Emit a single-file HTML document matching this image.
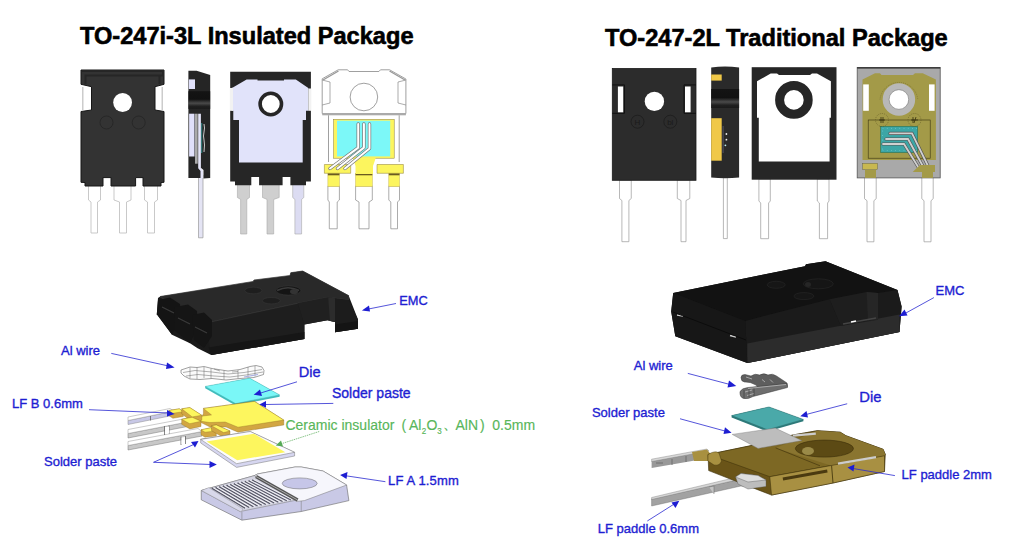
<!DOCTYPE html>
<html><head><meta charset="utf-8">
<style>
html,body{margin:0;padding:0;background:#fff;width:1024px;height:559px;overflow:hidden}
svg{display:block}
.t{font-family:"Liberation Sans",sans-serif}
.ttl{font-family:"Liberation Sans",sans-serif;font-weight:bold;font-size:23.6px;fill:#000;stroke:#000;stroke-width:0.6px}
.lb{font-family:"Liberation Sans",sans-serif;font-size:13px;fill:#1e1ed2;stroke:#1e1ed2;stroke-width:0.35px}
.gr{font-family:"Liberation Sans",sans-serif;font-size:14px;fill:#58b65a;stroke:#58b65a;stroke-width:0.15px}
</style></head><body>
<svg width="1024" height="559" viewBox="0 0 1024 559">
<defs>
<marker id="ah" viewBox="0 0 10 10" refX="9" refY="5" markerWidth="8" markerHeight="8" markerUnits="userSpaceOnUse" orient="auto"><path d="M0,0 L10,5 L0,10 z" fill="#1e1ed2"/></marker>
<marker id="ahg" viewBox="0 0 10 10" refX="9" refY="5" markerWidth="8" markerHeight="8" markerUnits="userSpaceOnUse" orient="auto"><path d="M0,0 L10,5 L0,10 z" fill="#55aa55"/></marker>
<linearGradient id="band" x1="0" y1="0" x2="0" y2="1">
<stop offset="0" stop-color="#141414"/><stop offset="0.45" stop-color="#111"/><stop offset="0.68" stop-color="#4a4a4a"/><stop offset="0.85" stop-color="#202020"/><stop offset="1" stop-color="#1a1a1a"/>
</linearGradient>
</defs>
<!-- TITLES -->
<text class="ttl" x="80" y="44.4">TO-247i-3L Insulated Package</text>
<text class="ttl" x="605" y="45.8">TO-247-2L Traditional Package</text>

<!-- ===== TOP LEFT ROW ===== -->
<g id="p1">
  <!-- leads -->
  <g fill="#fff" stroke="#bbb" stroke-width="0.8">
    <path d="M88.5,185 H100.5 V200 L97.5,202 V233 H91 V202 L88.5,200 Z"/>
    <path d="M114,185 H131 V200 L126.5,202 V233 H119.5 V202 L114,200 Z"/>
    <path d="M144.5,185 H157.5 V200 L154.5,202 V233 H147.5 V202 L144.5,200 Z"/>
  </g>
  <path d="M81,70 H164 V84.3 L155,86.7 V110 L164,111.5 V182.3 L161,182.5 V186 H143 V177.6 H142 L135.6,177.6 V186 H111 V177.6 H103 V186 H85 V182.5 L81,182.3 V111.5 L91.5,110 V86.7 L81,84.3 Z" fill="#333" stroke="#161616" stroke-width="1"/>
  <path d="M82,71 H163 V75.5 H85.5 V84 M159.5,75.5 V84" fill="none" stroke="#262626" stroke-width="2"/>
  <circle cx="122.6" cy="102.5" r="9.4" fill="#fff"/>
  <circle cx="106.5" cy="122.5" r="6.5" fill="none" stroke="#222" stroke-width="0.7"/>
  <circle cx="138.7" cy="122.5" r="6.5" fill="none" stroke="#222" stroke-width="0.7"/>
  <rect x="82" y="87" width="1.5" height="23" fill="#ccc"/>
  <rect x="161.5" y="87" width="1.5" height="23" fill="#ccc"/>
</g>

<g id="p2">
  <path d="M198.5,175 H203 V237.8 H198.5 Z" fill="#e4e4f4" stroke="#999" stroke-width="0.7"/>
  <path d="M188.4,70.8 H196.6 L210.2,75.1 V178 L203.5,178.5 V170 L201,168 V178 H188.4 Z" fill="#252525"/>
  <rect x="188.8" y="79.4" width="6.2" height="9.6" fill="#e0e0fa"/>
  <rect x="188.4" y="91.2" width="21.8" height="17.7" fill="url(#band)"/>
  <rect x="189.1" y="113.7" width="5.4" height="42.8" fill="#e0e0fa"/>
  <rect x="195" y="113.7" width="2.7" height="50" fill="#aaa"/>
  <path d="M198.2,113.7 H200.9 V168.3 L203,171 V178 H200.5 V171 L198.2,168.3 Z" fill="#e4e4f8"/>
  <rect x="201.3" y="123" width="0.9" height="30" fill="#3a9a9a"/>
  <path d="M204,124 q1,4 0,8 q-1,4 0,8 q1,4 0,12" fill="none" stroke="#ddd" stroke-width="0.9"/>
</g>
<g id="p3">
  <g stroke="#aaa" stroke-width="0.6">
    <path d="M237.4,184 H249.5 V197.5 L246.8,199.4 V234 H240.6 V199.4 L237.4,197.5 Z" fill="#cfcfcf"/>
    <path d="M262.5,184 H279.2 V197.5 L273.7,199.4 V234 H267 V199.4 L262.5,197.5 Z" fill="#cfcfcf"/>
    <path d="M292.7,184 H303.8 V197.5 L301.6,199.4 V234 H294.9 V199.4 L292.7,197.5 Z" fill="#dcdcf2"/>
  </g>
  <path d="M230.2,71.7 H310.9 V181.5 L306,181.6 V185.3 H290.4 V177 H282.6 V185.3 H259.1 V177 H251.3 V185.3 H235 V181.6 L230.2,181.5 Z" fill="#262626"/>
  <path d="M233.3,87.3 L246.6,79.5 H257.5 V80.5 H284 V79.5 H295.8 L308.3,88.1 V110.8 H306 V120 H302.7 V162.5 H239 V120 H233.3 V110.8 H231.5 V88 Z" fill="#e1e3fa"/>
  <rect x="229.8" y="88" width="3.2" height="22.8" fill="#f2f2f2"/>
  <rect x="308.3" y="88.5" width="3" height="22.3" fill="#f2f2f2"/>
  <circle cx="270.8" cy="104" r="10.7" fill="#fff" stroke="#262626" stroke-width="3.6"/>
</g>
<g id="p4">
  <g fill="#fff" stroke="#888" stroke-width="0.7">
    <path d="M327.9,186 H339.4 V200 L337.2,202 V228.8 H329.3 V202 L327.9,200 Z"/>
    <path d="M355.6,186 H372.3 V200 L369,202 V228.8 H359 V202 L355.6,200 Z"/>
    <path d="M388.8,186 H399.5 V200 L397.5,202 V228.8 H390.8 V202 L388.8,200 Z"/>
  </g>
  <g fill="#fcf55e" stroke="#c9b850" stroke-width="0.5">
    <rect x="327.9" y="173.3" width="11.5" height="13.2"/>
    <rect x="355.6" y="173.3" width="16.7" height="13.2"/>
    <rect x="388.8" y="173.3" width="10.7" height="13.2"/>
  </g>
  <rect x="327.9" y="173.3" width="11.5" height="2" fill="#6a5a20"/>
  <rect x="355.6" y="173.3" width="16.7" height="2" fill="#6a5a20"/>
  <rect x="388.8" y="173.3" width="10.7" height="2" fill="#6a5a20"/>
  <path d="M322.2,78.8 L338.2,69.8 H347.6 L349,71.5 H378.9 L380.5,69.8 H389.6 L405.9,79 V113.5 H322.2 Z" fill="#fff" stroke="#888" stroke-width="0.8"/>
  <path d="M322.2,80 L330,82 V103 L322.2,105 M405.9,80 L398,82 V103 L405.9,105" fill="none" stroke="#888" stroke-width="0.7"/>
  <path d="M323,80 L338.5,71 M405,80 L389.5,71" stroke="#999" stroke-width="1.4"/>
  <rect x="322.2" y="113" width="83.7" height="2.3" fill="#aaa"/>
  <circle cx="363.9" cy="97" r="13.8" fill="none" stroke="#777" stroke-width="0.7"/>
  <path d="M328.5,115.3 V162 M399.2,115.3 V162" stroke="#888" stroke-width="0.8"/>
  <rect x="333.6" y="119.4" width="60.6" height="38.8" fill="#fcf55e" stroke="#8a7a30" stroke-width="0.5"/>
  <rect x="337" y="120.7" width="53.2" height="35.7" fill="#7cf8f8"/>
  <path d="M352.6,157.5 H375.9 L373,166 V174 H355.5 V166 Z" fill="#fcf55e"/>
  <path d="M324.4,164.5 H350.7 V173.3 H324.4 Z M377,164.5 H403.4 V173.3 H377 Z" fill="#fcf55e" stroke="#8a7a30" stroke-width="0.5"/>
  <g fill="none" stroke-linecap="round" stroke-linejoin="round">
    <path d="M358.2,124 V147.6 L330,168.5 M363.9,124 V147.6 L337.5,168.5 M369.5,124 V148.5 L345,168.5" stroke="#777" stroke-width="3.4"/>
    <path d="M358.2,124 V147.6 L330,168.5 M363.9,124 V147.6 L337.5,168.5 M369.5,124 V148.5 L345,168.5" stroke="#fff" stroke-width="2"/>
  </g>
</g>

<g id="p5">
  <g fill="#fff" stroke="#999" stroke-width="0.7">
    <path d="M619.5,180 H631.25 V198.5 L628.9,200.5 V241.7 H621.9 V200.5 L619.5,198.5 Z"/>
    <path d="M677.3,180 H689.8 V198.5 L686,200.5 V241.7 H681 V200.5 L677.3,198.5 Z"/>
  </g>
  <rect x="612.3" y="68.5" width="83.7" height="111.8" fill="#2c2c2c" stroke="#1a1a1a" stroke-width="0.8"/>
  <path d="M612.3,84.9 H624.5 V113.3 H612.3 M696,84.9 H684 V113.3 H696" fill="none" stroke="#111" stroke-width="1"/>
  <rect x="617.9" y="86.5" width="5.3" height="25.8" fill="#fff"/>
  <rect x="685" y="86.5" width="5.6" height="25.8" fill="#fff"/>
  <circle cx="654.4" cy="101.4" r="9.7" fill="#fff"/>
  <circle cx="637.5" cy="121.7" r="6.5" fill="none" stroke="#1a1a1a" stroke-width="0.7"/>
  <circle cx="670.3" cy="121.7" r="6.5" fill="none" stroke="#1a1a1a" stroke-width="0.7"/>
  <text x="637.5" y="124.7" font-family="Liberation Sans" font-size="8" fill="#1a1a1a" text-anchor="middle">H</text>
  <text x="670.3" y="124.7" font-family="Liberation Sans" font-size="8" fill="#1a1a1a" text-anchor="middle">bl</text>
</g>
<g id="p6">
  <path d="M723.4,177 H727.3 V238.6 H723.4 Z" fill="#fff" stroke="#999" stroke-width="0.7"/>
  <path d="M711.2,67.5 Q725,65.5 739.1,67.5 V177.4 Q725,179 711.2,177.4 Z" fill="#2a2a2a"/>
  <rect x="711.2" y="74.5" width="10.5" height="6.1" fill="#f0c848"/>
  <rect x="711.2" y="89" width="27.9" height="19" fill="url(#band)"/>
  <rect x="711.2" y="118.2" width="10.5" height="42.5" fill="#f0c848"/>
  <rect x="722.6" y="126" width="1" height="27" fill="#556"/>
  <circle cx="726.4" cy="134" r="0.9" fill="#eee"/>
  <circle cx="726.4" cy="139.7" r="0.9" fill="#eee"/>
  <circle cx="725.4" cy="145.3" r="0.9" fill="#bee"/>
</g>
<g id="p7">
  <g fill="#fff" stroke="#999" stroke-width="0.7">
    <path d="M758.9,179 H770.3 V201 L768.6,203 V238.7 H760.7 V203 L758.9,201 Z"/>
    <path d="M817.3,179 H829 V201 L827.6,203 V238.7 H819.4 V203 L817.3,201 Z"/>
  </g>
  <rect x="751.7" y="67.2" width="84.8" height="112.5" fill="#262626"/>
  <path d="M757,81.3 L770.7,73.5 H777 L779,75 H810 L812,73.5 H817 L830.9,81.3 V117.8 H829.6 V161.6 H758.8 V117.8 H757 Z" fill="#fff"/>
  <circle cx="793.9" cy="99.9" r="14.3" fill="#fff" stroke="#262626" stroke-width="9"/>
</g>
<g id="p8">
  <g fill="#fff" stroke="#999" stroke-width="0.7">
    <path d="M864.5,177 H876.2 V198.7 L873.9,200.7 V241.8 H867 V200.7 L864.5,198.7 Z"/>
    <path d="M921.8,177 H933.2 V198.7 L931,200.7 V241.8 H924 V200.7 L921.8,198.7 Z"/>
  </g>
  <rect x="857.2" y="67.5" width="83" height="110.4" fill="#a9a9a9" stroke="#555" stroke-width="0.8"/>
  <rect x="857.2" y="67.2" width="83" height="1.4" fill="#333"/>
  <path d="M862.5,79.4 L875,73.2 H880 L881.5,75 H913 L915,73.2 H922.7 L935.9,79.4 V160 H862.5 Z" fill="#a39a48"/>
  <rect x="863.2" y="84.4" width="5.6" height="26.4" fill="#fff"/>
  <rect x="929" y="84.4" width="5.6" height="26.4" fill="#fff"/>
  <circle cx="898.9" cy="99.5" r="13" fill="#fff" stroke="#b8b8b8" stroke-width="6.5"/>
  <circle cx="898.9" cy="99.5" r="9.8" fill="none" stroke="#666" stroke-width="0.5"/>
  <rect x="868.2" y="120" width="62" height="38.2" fill="none" stroke="#3a3310" stroke-width="0.6"/>
  <rect x="880.7" y="126.3" width="37" height="26.3" fill="#3ca6a6" stroke="#264" stroke-width="0.5"/>
  <circle cx="882" cy="120" r="6.5" fill="none" stroke="#5a5020" stroke-width="0.5" stroke-dasharray="1,1"/>
  <circle cx="914.5" cy="120" r="6.5" fill="none" stroke="#5a5020" stroke-width="0.5" stroke-dasharray="1,1"/>
  <path d="M879,120 H885 M881,117 V123 M883,117 V123 M911,120 H918 M913,117 V123 M916,117 L914,123" stroke="#2a2408" stroke-width="0.7"/>
  <path d="M880,99.5 A19,19 0 0,1 917.8,99.5" fill="none" stroke="#6a6030" stroke-width="0.5" stroke-dasharray="1,1"/>
  <g fill="#8fd8d8"><circle cx="883.0" cy="128.3" r="0.45"/><circle cx="883.0" cy="150.6" r="0.45"/><circle cx="887.2" cy="128.3" r="0.45"/><circle cx="887.2" cy="150.6" r="0.45"/><circle cx="891.4" cy="128.3" r="0.45"/><circle cx="891.4" cy="150.6" r="0.45"/><circle cx="895.6" cy="128.3" r="0.45"/><circle cx="895.6" cy="150.6" r="0.45"/><circle cx="899.8" cy="128.3" r="0.45"/><circle cx="899.8" cy="150.6" r="0.45"/><circle cx="904.0" cy="128.3" r="0.45"/><circle cx="904.0" cy="150.6" r="0.45"/><circle cx="908.2" cy="128.3" r="0.45"/><circle cx="908.2" cy="150.6" r="0.45"/><circle cx="912.4" cy="128.3" r="0.45"/><circle cx="912.4" cy="150.6" r="0.45"/><circle cx="916.6" cy="128.3" r="0.45"/><circle cx="916.6" cy="150.6" r="0.45"/><circle cx="882.7" cy="131.0" r="0.45"/><circle cx="882.7" cy="135.5" r="0.45"/><circle cx="882.7" cy="140.0" r="0.45"/><circle cx="882.7" cy="144.5" r="0.45"/><circle cx="882.7" cy="149.0" r="0.45"/></g>
  <g fill="none" stroke-linecap="round">
    <path d="M890,133.4 H912 L930,170 M886,139 H908 L925,170 M883,144 H904 L920,170" stroke="#555" stroke-width="3.2"/>
    <path d="M890,133.4 H912 L930,170 M886,139 H908 L925,170 M883,144 H904 L920,170" stroke="#d0d0d0" stroke-width="1.8"/>
  </g>
  <rect x="862.5" y="163.3" width="15.1" height="6.2" fill="#c8b850" stroke="#554" stroke-width="0.4"/>
  <rect x="865" y="169.5" width="11" height="8.4" fill="#a39a48"/>
  <path d="M912.7,172 L920,165 H935 V172 Z" fill="#a39a48"/>
  <rect x="922" y="172" width="11" height="5.9" fill="#a39a48"/>
</g>

<!-- ===== BOTTOM LEFT ===== -->
<g id="emcL">
  <path d="M160.2,296.5 L290,276.9 L290.8,272.7 L302.7,271 L348.6,295.6 L358,319.4 L358,328.8 L335,332.2 L335,322 L327.4,320.3 L304.4,324.5 L304.4,339 L211.2,355.1 L197.6,348.3 L190,343.2 L172,334.7 L156.8,314.3 L158,298 Z" fill="#1a1a1a"/>
  <path d="M160.2,296.5 L253,281.5 L254,280 L290,275.5 L290.8,272.7 L302.7,271 L348.6,295.6 L348.6,299.9 L335,298.2 L328.2,297.3 L297.6,303.3 L206,323 L185,311 Z" fill="#292929" stroke="#383838" stroke-width="0.7"/>
  <path d="M297.6,303.3 L328.2,297.3 L335,298.2 L335,322 L327.4,320.3 L304.4,324.5 Z" fill="#202020"/>
  <path d="M328.2,297.3 L335,298.2 L335,322 L330,321 Z" fill="#2c2c2c"/>
  <path d="M206,323 L297.6,303.3 L304.4,324.5 L304.4,339 L211.2,355.1 Z" fill="#1e1e1e"/>
  <path d="M208.5,347.5 L304.4,332 L304.4,339 L211.2,355.1 Z" fill="#161616"/>
  <path d="M335,298.2 L348.6,299.9 L358,319.4 L358,328.8 L335,332.2 Z" fill="#1c1c1c"/>
  <path d="M335,324.5 L358,321 L358,328.8 L335,332.2 Z" fill="#141414"/>
  <path d="M160,297 L206,323 M206,323 L297.6,303.3" stroke="#3a3a3a" stroke-width="0.6" fill="none"/>
  <!-- tabs -->
  <path d="M158,300 L170,297.5 L180,304 L181,316 L172,334.7 L156.8,314.3 Z" fill="#141414"/>
  <path d="M175,307 L188,304.5 L197,311 L198,326 L190,343.2 L174,330 Z" fill="#151515"/>
  <path d="M192,315 L204,312.5 L212,320 L212,336 L204,348 L194,340 Z" fill="#151515"/>
  <path d="M162,307 L174,313 M178,318 L190,324 M195,327 L207,333" stroke="#3a3a3a" stroke-width="1.2"/>
  <ellipse cx="253.4" cy="290.5" rx="8.5" ry="3.3" fill="#1e1e1e" stroke="#3a3a3a" stroke-width="0.5"/>
  <ellipse cx="288.3" cy="290.5" rx="12.5" ry="4.6" fill="#141414" stroke="#3a3a3a" stroke-width="0.5"/>
  <path d="M277,290.5 Q288,285 299,290.5" stroke="#3a3a3a" stroke-width="1.5" fill="none"/>
  <ellipse cx="294" cy="291.5" rx="4" ry="2.6" fill="#333"/>
  <ellipse cx="271.3" cy="300.7" rx="9" ry="3.2" fill="#1e1e1e" stroke="#3a3a3a" stroke-width="0.5"/>
</g>
<g id="wireL">
  <path d="M181,370 L190,367 L197,367.5 L204,366.5 L212,368.5 L228,371 L240,369.5 L250,366.5 L256,365.5 L262,367 L264,370.5 L263.5,374.5 L254,377.5 L240,378.5 L226,380 L212,378.5 L200,379.5 L190,379 L184,376 L181,373 Z" fill="#fbfbfb" stroke="#555" stroke-width="0.55"/>
  <g fill="none" stroke="#666" stroke-width="0.5">
    <path d="M183,372.5 L195,370.5 L212,372 L228,374 L244,372.5 L262,369.5"/>
    <path d="M186,376 L198,374.5 L214,376 L230,377 L246,375 L263,372"/>
    <path d="M190,367.5 V378.5 M197,367.5 V379 M204,367 V378 M211,368.5 V378.5 M224,370.5 V379.5 M238,370 V378.5 M248,367 V377.5 M255,366 V376.5"/>
    <path d="M214,369 L220,371 M232,372 L238,371.5"/>
  </g>
  <path d="M244,377 L258,374.5" stroke="#aab0e0" stroke-width="1.2"/>
</g>
<g id="dieL">
  <path d="M205.2,386.4 L249.7,378.2 L279.6,394.9 L279.6,396.8 L235.6,405.5 L205.2,388.3 Z" fill="#3fbdbd"/>
  <path d="M205.2,386.4 L249.7,378.2 L279.6,394.9 L235.6,403.6 Z" fill="#7af7f7" stroke="#46aaaa" stroke-width="0.4"/>
</g>
<g id="lfbL">
  <!-- leads -->
  <path d="M128,420.5 L172,411.5 L172,415.5 L128,424.5 Z" fill="#c8c8e6" stroke="#888" stroke-width="0.5"/>
  <path d="M128,417 L170,408.5 L174,411 L128,420.5 Z" fill="#fff" stroke="#999" stroke-width="0.5"/>
  <path d="M128,433.5 L190,421.5 L190,426 L128,438 Z" fill="#c8c8c8" stroke="#777" stroke-width="0.5"/>
  <path d="M128,429.5 L186,418.5 L190,421.5 L128,433.5 Z" fill="#fff" stroke="#999" stroke-width="0.5"/>
  <path d="M128,445.5 L202,431.5 L202,436 L128,450 Z" fill="#c8c8c8" stroke="#777" stroke-width="0.5"/>
  <path d="M128,441.5 L198,428.5 L202,431.5 L128,445.5 Z" fill="#fff" stroke="#999" stroke-width="0.5"/>
  <path d="M150.5,416 V420.5 M164.5,426 V435 M169,425.5 V434 M181,436.5 V445 M185.5,436 V444" stroke="#555" stroke-width="0.7"/>
  <path d="M165,427 L169,426.5 V433.5 L165,434 Z M181.5,437.5 L185,437 V443.5 L181.5,444 Z" fill="#fff"/>
  <path d="M200.7,439.4 L215,450 L219,449 L205,438.5 Z" fill="#c8c8e6" stroke="#888" stroke-width="0.4"/>
  <!-- yellow tabs -->
  <g stroke="#8a6a20" stroke-width="0.35">
  <path d="M203.4,408.4 L254.5,401.4 L283.8,420.1 L283.8,425 L238,432.2 L226,427 L210,427 L200,422 L190,424 L190,419 L200.2,419.3 L203.4,413.7 Z" fill="#d2a642"/>
  <path d="M203.4,408.4 L254.5,401.4 L283.8,420.1 L238,427.2 L225.2,422 L209.9,422.5 L201,421.3 L196,418 L203,416 L211.5,414.9 Z" fill="#fdf65e"/>
  <path d="M168.8,410.5 L179.3,408.8 L183.3,411.7 L183.3,416.5 L172.9,418.3 L168.8,415.5 Z" fill="#d2a642"/>
  <path d="M168.8,410.5 L179.3,408.8 L183.3,411.7 L172.9,413.3 Z" fill="#fdf65e"/>
  <path d="M181.7,408.8 L189.8,407.6 L201.8,415.3 L201.8,420.3 L192.2,421.9 L181.7,413.8 Z" fill="#d2a642"/>
  <path d="M181.7,408.8 L189.8,407.6 L201.8,415.3 L192.2,416.9 Z" fill="#fdf65e"/>
  <path d="M181.7,419.3 L192.2,417.3 L201,421.3 L201,426.5 L189.8,428.9 L181.7,424.3 Z" fill="#d2a642"/>
  <path d="M181.7,419.3 L192.2,417.3 L201,421.3 L189.8,423.7 Z" fill="#fdf65e"/>
  <path d="M201,429.8 L210.7,427.8 L216.3,431 L216.3,436 L205,437.2 L201,434.8 Z" fill="#d2a642"/>
  <path d="M201,429.8 L210.7,427.8 L216.3,431 L205,432.2 Z" fill="#fdf65e"/>
  <path d="M211.5,425.7 L216.3,424.9 L230,431 L230,436 L223.6,437.6 L211.5,430.7 Z" fill="#d2a642"/>
  <path d="M211.5,425.7 L216.3,424.9 L230,431 L223.6,432.6 Z" fill="#fdf65e"/>
  </g>
</g>
<g id="cerL">
  <path d="M200.7,439.4 L250.2,431.5 L294.6,452.3 L294.6,456 L236.6,467.4 L200.7,443 Z" fill="#d6d6f0" stroke="#777" stroke-width="0.5"/>
  <path d="M200.7,439.4 L250.2,431.5 L294.6,452.3 L236.6,463.7 Z" fill="#fbfbff" stroke="#777" stroke-width="0.5"/>
  <path d="M206.5,441.5 L253.8,433.7 L285.3,452.3 L237.3,460.2 Z" fill="#fdf65e"/>
</g>
<g id="lfaL">
  <path d="M201.25,490.5 L254.4,475.6 L257.5,474 L295,467 L301.25,467 L323,471 L346.6,485 L348.9,500.6 L301.25,511.5 L241.9,520.2 L201.25,499.8 Z" fill="#c9c9e6" stroke="#666" stroke-width="0.6"/>
  <path d="M201.25,490.5 L254.4,475.6 L297,500 L240.3,511.5 Z" fill="#d4d4e2" stroke="#777" stroke-width="0.5"/>
  <path d="M201.5,490.5 L208.8,487.6 L243,509 L241,512 Z" fill="#d8d8ea" stroke="#888" stroke-width="0.4"/>
  <g stroke="#5a5a6a" stroke-width="1.4">
    <path d="M211.8,488.1 L245.1,508.1 M215.5,487.4 L249.2,507.4 M219.2,486.6 L253.4,506.6 M222.8,485.9 L257.6,505.9 M226.5,485.1 L261.8,505.1 M230.2,484.4 L265.9,504.4 M233.8,483.6 L270.1,503.6 M237.5,482.9 L274.2,502.9 M241.2,482.1 L278.4,502.1 M244.8,481.4 L282.6,501.4 M248.5,480.6 L286.8,500.6 M252.2,479.9 L290.9,499.9"/>
  </g>
  <g stroke="#fff" stroke-width="0.8">
    <path d="M213.2,487.8 L246.5,507.8 M216.9,487.1 L250.7,507.1 M220.6,486.3 L254.8,506.3 M224.2,485.6 L259.0,505.6 M227.9,484.8 L263.1,504.8 M231.6,484.1 L267.3,504.1 M235.2,483.3 L271.5,503.3 M238.9,482.6 L275.6,502.6 M242.6,481.8 L279.8,501.8 M246.2,481.1 L284.0,501.1 M249.9,480.3 L288.1,500.3 M253.6,479.6 L292.3,499.6"/>
  </g>
  <path d="M254.4,475.6 L257.5,474 L295,467 L301.25,467 L323,471 L346.6,485 L304.4,500.6 L296.6,501.4 Z" fill="#f6f6fc" stroke="#777" stroke-width="0.5"/>
  <path d="M256,476.5 L297.6,500" stroke="#555" stroke-width="3.5"/>
  <path d="M256,476.5 L297.6,500" stroke="#aaa" stroke-width="1"/>
  <ellipse cx="299.7" cy="483.4" rx="17.5" ry="5.5" fill="#c6c6e8" stroke="#666" stroke-width="0.5"/>
  <path d="M301.25,501 V511.5 M241.9,512 V520" stroke="#777" stroke-width="0.5"/>
</g>
<!-- labels left -->
<text class="lb" x="399.3" y="304.6" style="font-size:12.8px">EMC</text>
<line x1="396" y1="303.5" x2="362" y2="310.4" stroke="#1e1e1e" stroke-width="0" />
<g stroke="#2a2ad0" stroke-width="0.8" fill="none">
  <path d="M396,303.5 L367,309.3"/>
  <path d="M111.3,353.4 L170,366.3"/>
  <path d="M89,409.7 L169,413"/>
  <path d="M297,381.8 L259,393.5"/>
  <path d="M333.3,403.4 L265,404.5"/>
  <path d="M153.5,462.3 L193,444.8 M153.5,462.3 L211,464.5"/>
  <path d="M385.4,481.7 L346,475.8"/>
</g>
<g fill="#1e1ed2">
  <path d="M361.9,310.4 L369,305.5 L370,311.5 Z"/>
  <path d="M174.6,367.5 L167,362.5 L166,369 Z"/>
  <path d="M174.6,413.9 L167,410 L167,416.5 Z"/>
  <path d="M253.6,394.7 L260,389.5 L262,396 Z"/>
  <path d="M259.4,404.5 L266,401 L266,407.8 Z"/>
  <path d="M198.5,440.9 L195,447.5 L191,442 Z"/>
  <path d="M216.8,464.6 L209.5,461 L209.5,468 Z"/>
  <path d="M340.1,474.9 L347.5,472 L346.5,479 Z"/>
</g>
<path d="M319.2,431.5 L279,444.5" stroke="#55aa55" stroke-width="0.7" stroke-dasharray="1.5,0.8"/>
<path d="M275.8,445.5 L281,440.5 L283,446.5 Z" fill="#55aa55"/>
<text class="lb" x="61" y="354.8">Al wire</text>
<text class="lb" x="12" y="407.8">LF B 0.6mm</text>
<text class="lb" x="298.8" y="377" style="font-size:14.6px">Die</text>
<text class="lb" x="332" y="398.3" style="font-size:14px">Solder paste</text>
<text class="lb" x="44" y="465.8">Solder paste</text>
<text class="lb" x="388" y="485.4" style="letter-spacing:0.15px">LF A 1.5mm</text>
<g transform="translate(0,429.8) scale(1,1.08) translate(0,-429.8)">
<text class="gr" x="285.5" y="429.8">Ceramic insulator</text>
<text class="gr" x="401.5" y="429.8">(</text>
<text class="gr" x="409" y="429.8">Al</text>
<text class="gr" x="421.8" y="434" style="font-size:8px">2</text>
<text class="gr" x="426.5" y="429.8">O</text>
<text class="gr" x="437.2" y="434" style="font-size:8px">3</text>
<text class="gr" x="443.5" y="429.5">、</text>
<text class="gr" x="455.5" y="429.8">AlN</text>
<text class="gr" x="480" y="429.8">)</text>
<text class="gr" x="492.3" y="429.8">0.5mm</text>
</g>

<!-- ===== BOTTOM RIGHT ===== -->
<g id="emcR">
  <path d="M673.2,293.1 L763.8,274.6 L805,266.3 L806,264.3 L825.5,261.2 L897.5,290 L901.6,306.4 L899.5,332.1 L747.3,363.1 L675.3,336.3 L671.2,311.6 Z" fill="#151515"/>
  <path d="M673.2,293.1 L763.8,274.6 L805,266.3 L806,264.3 L825.5,261.2 L897.5,290 L878,293 L866.6,292 L829.6,299.2 L745.3,320.9 Z" fill="#121212"/>
  <path d="M745.3,320.9 L829.6,299.2 L840.9,325.9 L878,319.8 L878,293 L897.5,290 L901.6,306.4 L899.5,332.1 L747.3,363.1 Z" fill="#1b1b1b"/>
  <path d="M747.3,343.5 L899.5,314.6 L899.5,332.1 L747.3,363.1 Z" fill="#2c2c2c"/>
  <path d="M829.6,299.2 L866.6,292 L878,293 L878,319.8 L840.9,325.9 Z" fill="#1e1e1e"/>
  <path d="M866.6,292 L878,293 L878,319.8 L868,320.5 Z" fill="#262626"/>
  <path d="M843,324 L876,318" stroke="#444" stroke-width="1.5"/>
  <path d="M851,322 L856,321" stroke="#fff" stroke-width="1.5"/>
  <path d="M673.2,293.1 L671.2,311.6 L675.3,336.3 L747.3,363.1 L745.3,320.9 Z" fill="#171717"/>
  <path d="M677,315 L683,316 M730,335.5 L736,337" stroke="#ccc" stroke-width="1.3"/>
  <path d="M673,312 L746,340" stroke="#0c0c0c" stroke-width="1"/>
  <ellipse cx="776.2" cy="284.8" rx="9" ry="3.5" fill="#161616" stroke="#282828" stroke-width="0.6"/>
  <ellipse cx="818.3" cy="283.8" rx="15" ry="5" fill="#151515" stroke="#282828" stroke-width="0.6"/>
  <ellipse cx="808" cy="284.5" rx="3" ry="2.5" fill="#262626"/>
  <ellipse cx="803.9" cy="296.1" rx="10" ry="3.5" fill="#161616" stroke="#282828" stroke-width="0.6"/>
</g>
<g id="wireR">
  <path d="M741,377.5 Q741,374.5 745,374.5 L751,376 Q755,373 759.5,375 Q764,372.5 768,375 Q772.5,373 776.5,376 L787,383 L787.5,386.5 L760,390 L756,385 Q750,381.5 744.5,382 Q741,381.5 741,377.5 Z" fill="#5e5e5e" stroke="#3a3a3a" stroke-width="0.5"/>
  <path d="M740,391.5 Q742,388 748,387.5 L787,383.5 L787.5,387.5 L753,396.5 Q748,399.5 743.5,398.5 Q739.5,397 740,391.5 Z" fill="#6e6e6e" stroke="#3a3a3a" stroke-width="0.5"/>
  <path d="M748,388.5 L786,384.5 M745,392 L752,390 M747,395.5 L754,393.5 M762,379.5 L765,382 M770,379.5 L773,382.5 M746,377 L752,379" stroke="#b0b0b0" stroke-width="0.9" fill="none"/>
  <path d="M744,390 V398 M749,389 V397 M754,388.5 V396" stroke="#333" stroke-width="0.6"/>
</g>
<g id="dieR">
  <path d="M731.6,415.6 L769,406.9 L803.4,419.4 L803.4,421.2 L767.5,431.5 L731.6,417.4 Z" fill="#2d7a7a"/>
  <path d="M731.6,415.6 L769,406.9 L803.4,419.4 L767.5,429.7 Z" fill="#4aa9a9" stroke="#2a6a6a" stroke-width="0.4"/>
</g>
<g id="leadsR">
  <path d="M651.6,461 L692,453.5 L707,451 L707,458 L692,461 L651.6,468 Z" fill="#999"/>
  <path d="M651.6,459.2 L692,451.7 L707,449 L709,451 L651.6,461.5 Z" fill="#d8d8d8" stroke="#777" stroke-width="0.4"/>
  <path d="M656,463 H663 M672,459 V465 M686,456 V462" stroke="#666" stroke-width="0.8"/>
  <path d="M692,452 L707,449.5 L712,456 L708,461 L694,461 Z" fill="#a89040"/>
  <path d="M651.6,499 L741,479 L764.4,483 L764.4,489 L741,486 L651.6,506 Z" fill="#a2a2a2" stroke="#666" stroke-width="0.4"/>
  <path d="M651.6,497.5 L741,476.2 L764.4,480.5 L764.4,483 L741,479 L651.6,499.5 Z" fill="#d6d6d6" stroke="#777" stroke-width="0.4"/>
  <path d="M709,487 L714,486 V494 M740,478 L746,477 L752,480 L764,482 V488 L752,487 L746,486 Z" fill="#c4c4c4" stroke="#666" stroke-width="0.5"/>
</g>
<g id="padR">
  <path d="M708,454.5 L753.7,445.1 L792.9,435 L817.3,430.7 L840.2,432.2 L845.9,435.7 L883.1,449.3 L885.3,454.4 L884.5,471.5 L833,483 L771.5,495.1 L708.7,470.6 Z" fill="#6a5418" stroke="#3a2e08" stroke-width="0.6"/>
  <path d="M708,454.5 L753.7,445.1 L792.9,435 L817.3,430.7 L840.2,432.2 L845.9,435.7 L883.1,449.3 L885.3,454.4 L884.5,455.8 L769.8,476.7 Z" fill="#7d6824" stroke="#3a2e08" stroke-width="0.5"/>
  <path d="M775.7,447.9 L817.3,430.7 L840.2,432.2 L845.9,435.7 L883.1,449.3 L885.3,454.4 L884.5,455.8 L831.6,465.8 Z" fill="#8a7530"/>
  <path d="M775.7,447.9 L820,465.8" stroke="#3a2e08" stroke-width="0.6"/>
  <path d="M769.8,476.7 L884.5,455.8 L884.5,471.5 L833,483 L771.5,495.1 Z" fill="#a89042" stroke="#3a2e08" stroke-width="0.5"/>
  <path d="M831.6,465.8 L833,483" stroke="#3a2e08" stroke-width="0.8"/>
  <ellipse cx="824.4" cy="448.6" rx="29" ry="8.5" fill="#5c4a14" stroke="#3a2e08" stroke-width="0.6"/>
  <ellipse cx="808" cy="451" rx="6" ry="4" fill="#9a8a48"/>
  <path d="M792.9,435.7 L815.8,433.6" stroke="#ccc" stroke-width="2.2"/>
  <path d="M838,463.7 L876,457.2" stroke="#ccc" stroke-width="2.2"/>
  <path d="M782.9,479 L827.3,471" stroke="#4a3a10" stroke-width="3"/>
  <path d="M708,454.5 Q715,450 719,453 L721.5,461 Q720,466 714,465 L708,461 Z" fill="#a89040" stroke="#3a2e08" stroke-width="0.4"/>
  <path d="M735.6,477 L741,473.5 L758,475.5 L766,480 L766,486.5 L748,489 L738,484 Z" fill="#bdbdbd" stroke="#555" stroke-width="0.4"/>
  <path d="M735.6,477 L741,473.5 L758,475.5 L766,480 L748,482 Z" fill="#dedede" stroke="#555" stroke-width="0.4"/>
</g>
<g id="spR">
  <path d="M732.2,434.4 L775.3,428.1 L801.9,440.6 L758.1,448.4 Z" fill="#bdbdbd" stroke="#777" stroke-width="0.4"/>
</g>
<!-- labels right -->
<g stroke="#2a2ad0" stroke-width="0.8" fill="none">
  <path d="M933.9,297.6 L905,313.5"/>
  <path d="M687.8,373.4 L730,384.5"/>
  <path d="M847.2,403.75 L806,414.5"/>
  <path d="M680,418.75 L726,431.3"/>
  <path d="M894.9,475.6 L853,468.5"/>
  <path d="M647.3,521 L675,503.5"/>
</g>
<g fill="#1e1ed2">
  <path d="M899.1,316.3 L904.5,309.5 L907.5,315.5 Z"/>
  <path d="M736.25,386 L729,380.5 L727.5,387.5 Z"/>
  <path d="M800.3,416.25 L806.5,411 L808,417.5 Z"/>
  <path d="M731.6,432.8 L725,427.3 L723.5,434 Z"/>
  <path d="M847.5,467.5 L854.5,464.5 L853.5,471.5 Z"/>
  <path d="M679.3,500.7 L671.5,502.5 L675.5,508 Z"/>
</g>
<text class="lb" x="935.6" y="294.6">EMC</text>
<text class="lb" x="633.75" y="370.3">Al wire</text>
<text class="lb" x="859.3" y="401.7" style="font-size:14.8px">Die</text>
<text class="lb" x="591.9" y="417.2">Solder paste</text>
<text class="lb" x="901.6" y="478.7">LF paddle 2mm</text>
<text class="lb" x="597.8" y="533.3">LF paddle 0.6mm</text>
</svg>
</body></html>
